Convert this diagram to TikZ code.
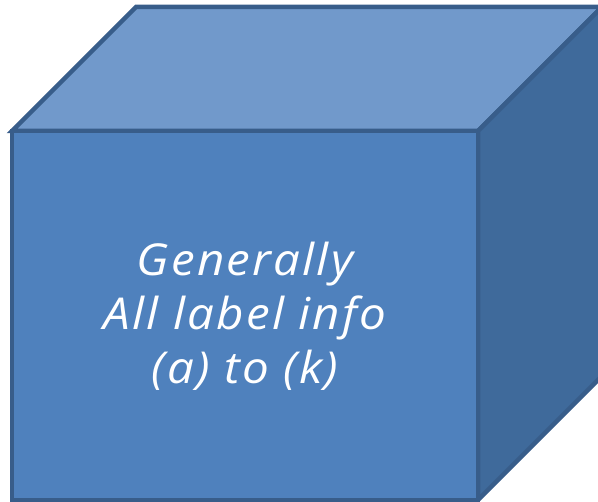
\documentclass[tikz,border=0pt]{standalone}
\usepackage{fontspec}
\setmainfont{Open Sans}
\newfontfamily\labelfont[FakeStretch=1.08,LetterSpace=5]{Open Sans}
\definecolor{frontblue}{HTML}{4F81BD}
\definecolor{topblue}{HTML}{7199CB}
\definecolor{sideblue}{HTML}{3F6A9B}
\definecolor{edgeblue}{HTML}{385D8A}
\begin{document}
\begin{tikzpicture}[x=1pt,y=-1pt,
  face/.style={draw=edgeblue,line width=4.5pt,line join=miter}]
  \useasboundingbox (0,0) rectangle (598,502);
  \begin{scope}
    \clip (0,0) rectangle (598,502);
    % front corners
    \coordinate (a) at (12,131);
    \coordinate (b) at (478,131);
    \coordinate (c) at (478,500);
    \coordinate (d) at (12,500);
    % back corners (offset up and right)
    \coordinate (e) at (136,7);
    \coordinate (f) at (602,7);
    \coordinate (g) at (602,376);
    \path[face,fill=topblue] (a) -- (e) -- (f) -- (b) -- cycle;
    \path[face,fill=sideblue] (b) -- (f) -- (g) -- (c) -- cycle;
    \path[face,fill=frontblue] (a) -- (b) -- (c) -- (d) -- cycle;
  \end{scope}
  \node[text=white,font=\labelfont\fontsize{44}{54}\selectfont\itshape,align=center]
    (label) at (245,316) {Generally\\All label info\\(a) to (k)};
\end{tikzpicture}
\end{document}
